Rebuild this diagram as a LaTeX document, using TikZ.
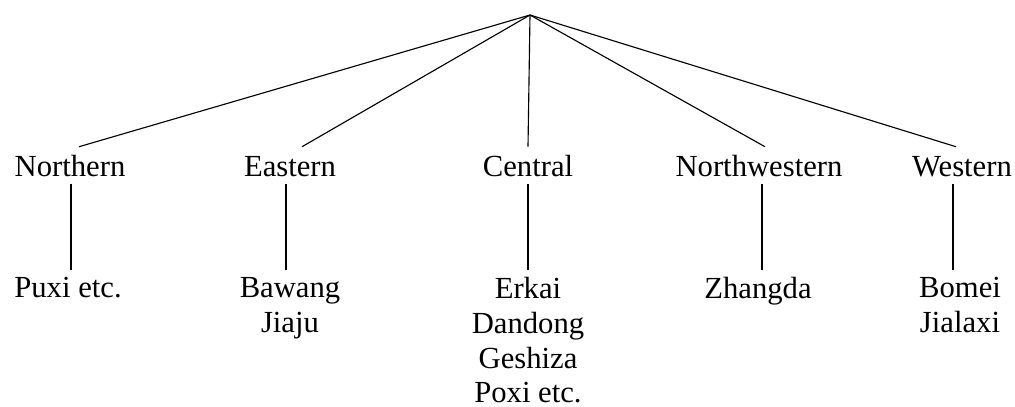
\documentclass[tikz,border=0pt]{standalone}
\usepackage{fontspec}
\setmainfont{Liberation Serif}
\begin{document}
\begin{tikzpicture}[x=0.75pt,y=-0.75pt,
  every node/.style={font=\fontsize{23}{26}\selectfont},
  lvone/.style={anchor=base, inner xsep=0pt, inner ysep=6pt, text height=15.75pt, text depth=0pt},
  lvtwo/.style={anchor=north, inner xsep=0pt, inner ysep=5.5pt, align=center},
  link/.style={draw=black, line width=0.85pt}]
\useasboundingbox (0,0) rectangle (1015,407);
\coordinate (root) at (530,15);
\node[lvone] (N)  at (70,176)  {Northern};
\node[lvone] (E)  at (290,176) {Eastern};
\node[lvone] (C)  at (528,176) {Central};
\node[lvone] (NW) at (759,176) {Northwestern};
\node[lvone] (W)  at (962,176) {Western};
\node[lvtwo] (P)  at (68,270)  {Puxi etc.};
\node[lvtwo] (B)  at (290,270) {Bawang\\Jiaju};
\node[lvtwo] (Er) at (528,270) {Erkai\\Dandong\\Geshiza\\Poxi etc.};
\node[lvtwo] (Z)  at (758,270) {Zhangda};
\node[lvtwo] (Bo) at (960,270) {Bomei\\Jialaxi};
\draw[link] (root) -- ([xshift=6.75pt]N.north);
\draw[link] (root) -- ([xshift=9pt]E.north);
\draw[link] (root) -- (C.north);
\draw[link] (root) -- ([xshift=4.5pt]NW.north);
\draw[link] (root) -- ([xshift=-4.5pt]W.north);
\draw[link] ([xshift=0.75pt]N.south) -- ([xshift=0.75pt]N.south |- P.north);
\draw[link] ([xshift=-3pt]E.south) -- ([xshift=-3pt]E.south |- B.north);
\draw[link] (C.south) -- (C.south |- Er.north);
\draw[link] ([xshift=2.25pt]NW.south) -- ([xshift=2.25pt]NW.south |- Z.north);
\draw[link] ([xshift=-6.75pt]W.south) -- ([xshift=-6.75pt]W.south |- Bo.north);
\end{tikzpicture}
\end{document}
